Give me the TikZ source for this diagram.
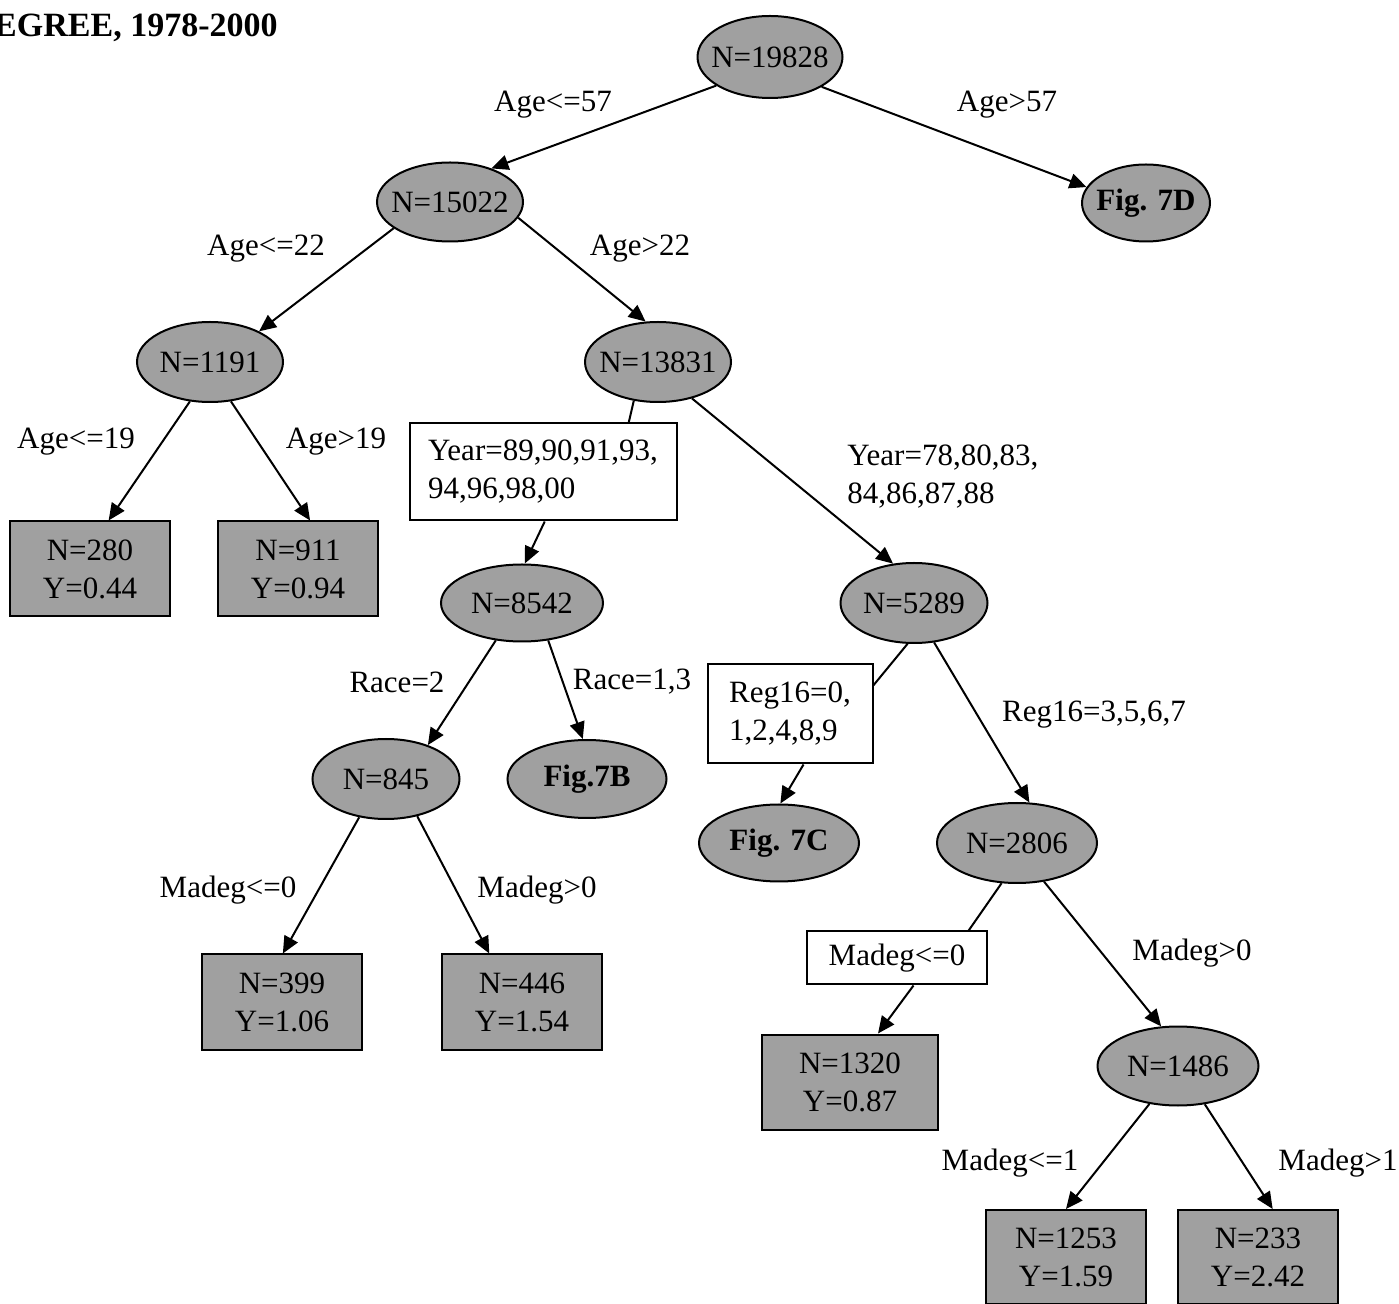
\documentclass[tikz,border=0pt]{standalone}
\usepackage{fontspec}
\setmainfont{Liberation Serif}
\usetikzlibrary{shapes.geometric,arrows.meta}
\definecolor{nodegray}{RGB}{160,160,160}
\begin{document}
\begin{tikzpicture}[x=0.5pt,y=-0.5pt,
  every node/.style={font=\fontsize{15.5}{19}\selectfont, inner sep=0pt},
  ell/.style={ellipse, draw, line width=1pt, fill=nodegray, inner xsep=-8pt, minimum width=73pt, minimum height=40pt},
  leaf/.style={rectangle, draw, line width=1pt, fill=nodegray, minimum width=80pt, minimum height=47.5pt, align=center},
  cond/.style={rectangle, draw, line width=1pt, fill=white, align=left},
  arr/.style={line width=1pt, -{Triangle[length=8.5pt,width=7.5pt]}},
  seg/.style={line width=1pt}]
\useasboundingbox (0,0) rectangle (1399,1304);
\clip (0,0) rectangle (1399,1304);

\node[anchor=base east, font=\bfseries\fontsize{17}{20}\selectfont] (title) at (278,37) {EGREE, 1978-2000};

% ellipses
\node[ell, minimum width=72.5pt, minimum height=41pt] (root) at (770,57) {N=19828};
\node[ell, minimum width=64pt, minimum height=38.5pt, font=\bfseries\fontsize{15.5}{19}\selectfont] (f7D) at (1146,203) {Fig. 7D};
\node[ell, minimum height=39.5pt] (n15022) at (450,202) {N=15022};
\node[ell] (n1191) at (210,362) {N=1191};
\node[ell] (n13831) at (658,362) {N=13831};
\node[ell, minimum width=81pt, minimum height=38.5pt] (n8542) at (522,603) {N=8542};
\node[ell, minimum width=73.5pt] (n5289) at (914,603) {N=5289};
\node[ell, minimum width=79.5pt, minimum height=39pt, font=\bfseries\fontsize{15.5}{19}\selectfont] (f7B) at (587,779) {Fig.7B};
\node[ell, minimum width=73.5pt] (n845) at (386,779) {N=845};
\node[ell, minimum width=80pt, minimum height=38.5pt, font=\bfseries\fontsize{15.5}{19}\selectfont] (f7C) at (779,843) {Fig. 7C};
\node[ell, minimum width=80pt] (n2806) at (1017,843) {N=2806};
\node[ell, minimum width=80.5pt, minimum height=39.5pt] (n1486) at (1178,1066) {N=1486};

% leaves
\node[leaf] (l280) at (90,569) {N=280\\Y=0.44};
\node[leaf] (l911) at (298,569) {N=911\\Y=0.94};
\node[leaf] (l399) at (282,1002) {N=399\\Y=1.06};
\node[leaf] (l446) at (522,1002) {N=446\\Y=1.54};
\node[leaf, minimum width=88pt] (l1320) at (850,1082) {N=1320\\Y=0.87};
\node[leaf, minimum height=47pt] (l1253) at (1066,1257) {N=1253\\Y=1.59};
\node[leaf, minimum height=47pt] (l233) at (1258,1257) {N=233\\Y=2.42};

% condition boxes
\node[cond, minimum width=133.5pt, minimum height=48.5pt] (year) at (543,472) {Year=89,90,91,93,\\94,96,98,00};
\node[cond, minimum width=82.5pt, minimum height=49.5pt] (reg) at (790,714) {Reg16=0,\\1,2,4,8,9};
\node[cond, minimum width=90pt, minimum height=26.5pt] (mbox) at (897,958) {Madeg<=0};

% edge labels
\node (lab1) at (553,105) {Age<=57};
\node (lab2) at (1007,105) {Age>57};
\node (lab3) at (266,249) {Age<=22};
\node (lab4) at (640,249) {Age>22};
\node (lab5) at (76,442) {Age<=19};
\node (lab6) at (336,442) {Age>19};
\node[anchor=west, align=left] (lab7) at (847,477) {Year=78,80,83,\\84,86,87,88};
\node (lab8) at (397,682) {Race=2};
\node (lab9) at (632,682) {Race=1,3};
\node (lab10) at (1094,715) {Reg16=3,5,6,7};
\node (lab11) at (228,890) {Madeg<=0};
\node (lab12) at (537,890) {Madeg>0};
\node (lab13) at (1192,953) {Madeg>0};
\node (lab14) at (1010,1163) {Madeg<=1};
\node (lab15) at (1338,1163) {Madeg>1};

% connectors
\draw[arr] (root.208) -- (n15022.39);
\draw[arr] (root.330) -- (f7D.165);
\draw[arr] (n15022.205) -- (n1191.32);
\draw[arr] (n15022.347) -- (n13831.107);
\draw[arr] (n1191.243) -- (l280.69);
\draw[arr] (n1191.298) -- (l911.76);
\draw[seg] (n13831.238) -- (year.30);
\draw[arr] (year.272) -- (n8542.86);
\draw[arr] (n13831.313) -- (n5289.118);
\draw[arr] (n8542.235) -- (n845.39);
\draw[arr] (n8542.305) -- (f7B.96);
\draw[seg] (n5289.261) -- (reg.19);
\draw[arr] (reg.285) -- (f7C.88);
\draw[arr] (n5289.297) -- (n2806.73);
\draw[arr] (n845.235) -- (l399.89);
\draw[arr] (n845.310) -- (l446.124);
\draw[seg] (n2806.249) -- (mbox.21);
\draw[arr] (mbox.301) -- (l1320.60);
\draw[arr] (n2806.305) -- (n1486.113);
\draw[arr] (n1486.233) -- (l1253.90);
\draw[arr] (n1486.305) -- (l233.73);
\end{tikzpicture}
\end{document}
